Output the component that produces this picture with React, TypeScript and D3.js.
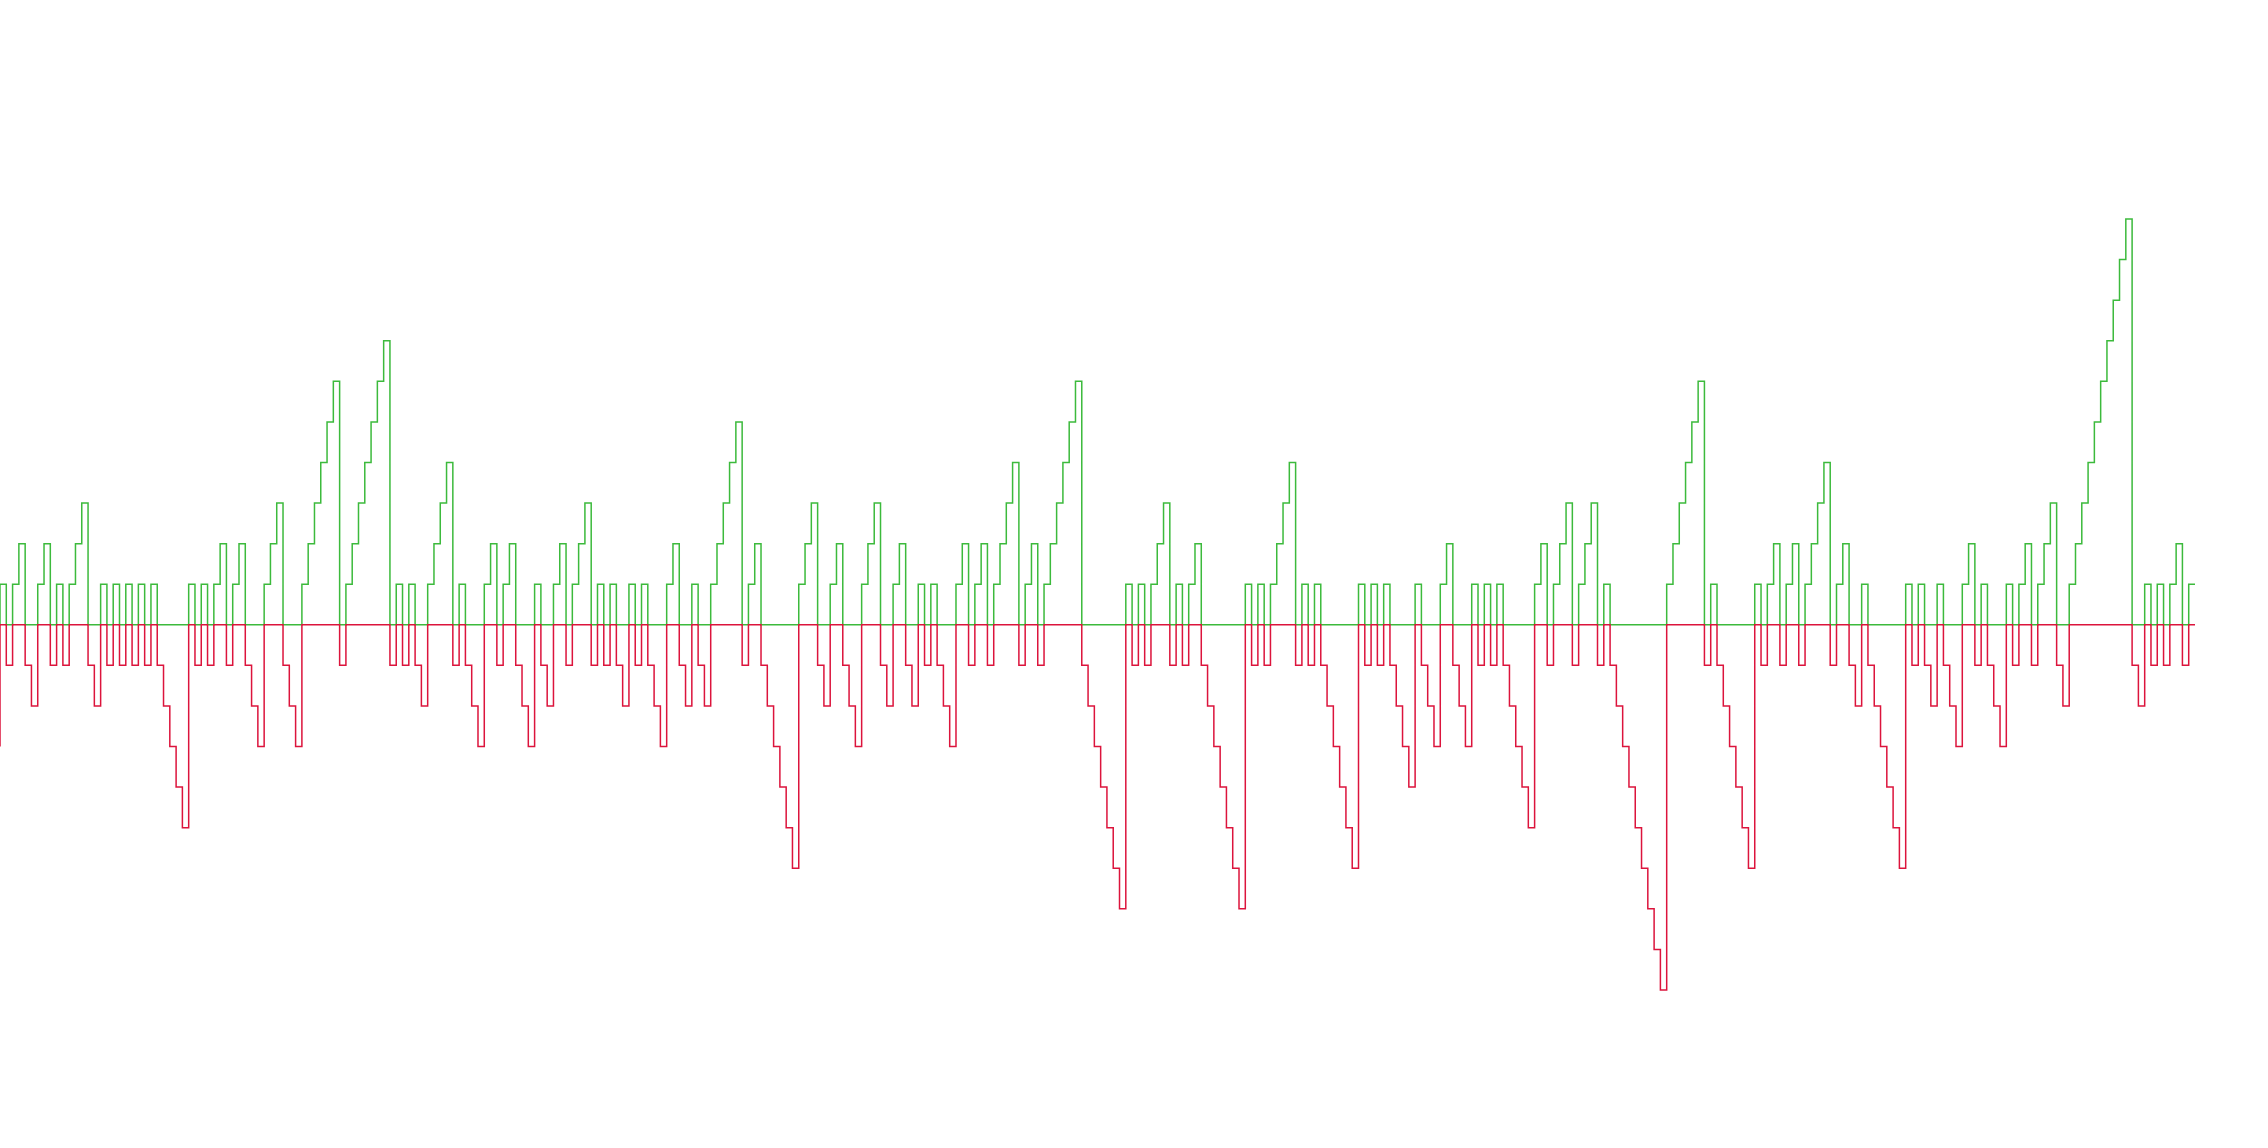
import React, { useEffect, useRef } from 'react';
import * as d3 from 'd3';

// streak value per game: +n = n-th win in a row, -n = n-th loss in a row
const streak: number[] = [
  -3,
  1, -1, 1, 2, -1, -2, 1, 2, -1, 1, -1, 1, 2, 3, -1, -2,
  1, -1, 1, -1, 1, -1, 1, -1, 1,
  -1, -2, -3, -4, -5,
  1, -1, 1, -1, 1, 2, -1, 1, 2,
  -1, -2, -3, 1, 2, 3, -1, -2, -3,
  1, 2, 3, 4, 5, 6, -1, 1, 2, 3, 4, 5, 6, 7, -1,
  1, -1, 1, -1, -2, 1, 2, 3, 4, -1, 1, -1, -2, -3,
  1, 2, -1, 1, 2, -1, -2, -3, 1, -1, -2, 1, 2, -1,
  1, 2, 3, -1, 1, -1, 1, -1, -2, 1, -1, 1,
  -1, -2, -3, 1, 2, -1, -2, 1, -1, -2, 1, 2, 3, 4, 5,
  -1, 1, 2, -1, -2, -3, -4, -5, -6, 1, 2, 3, -1, -2, 1, 2,
  -1, -2, -3, 1, 2, 3, -1, -2, 1, 2, -1, -2, 1, -1, 1,
  -1, -2, -3, 1, 2, -1, 1, 2, -1, 1, 2, 3, 4, -1, 1, 2, -1,
  1, 2, 3, 4, 5, 6, -1, -2, -3, -4, -5, -6, -7,
  1, -1, 1, -1, 1, 2, 3, -1, 1, -1, 1, 2,
  -1, -2, -3, -4, -5, -6, -7,
  1, -1, 1, -1, 1, 2, 3, 4, -1, 1, -1, 1,
  -1, -2, -3, -4, -5, -6,
  1, -1, 1, -1, 1, -1, -2, -3, -4, 1, -1, -2, -3, 1, 2,
  -1, -2, -3, 1, -1, 1, -1, 1, -1, -2, -3, -4, -5,
  1, 2, -1, 1, 2, 3, -1, 1, 2, 3, -1, 1,
  -1, -2, -3, -4, -5, -6, -7, -8, -9,
  1, 2, 3, 4, 5, 6, -1, 1, -1, -2, -3, -4, -5, -6,
  1, -1, 1, 2, -1, 1, 2, -1, 1, 2, 3, 4, -1, 1, 2, -1, -2, 1,
  -1, -2, -3, -4, -5, -6, 1, -1, 1, -1, -2, 1, -1, -2, -3, 1, 2, -1, 1,
  -1, -2, -3, 1, -1, 1, 2, -1, 1, 2, 3, -1, -2,
  1, 2, 3, 4, 5, 6, 7, 8, 9, 10,
  -1, -2, 1, -1, 1, -1, 1, 2, -1, 1,
];

const yExtent: [number, number] = [-9, 10];

const WIDTH = 2268;
const HEIGHT = 1148;
const margin = { top: 219, right: 73, bottom: 158, left: 0 };

const WIN = '#3cba3c';
const LOSS = 'crimson';

const App: React.FC = () => {
  const svgRef = useRef<SVGSVGElement>(null);

  useEffect(() => {
    document.body.style.margin = '0';
    if (!svgRef.current) return;

    const svg = d3.select(svgRef.current);
    svg.selectAll('*').remove();

    const x = d3.scaleLinear()
      .domain([0, streak.length - 1])
      .range([margin.left, WIDTH - margin.right]);

    const y = d3.scaleLinear()
      .domain(yExtent)
      .range([HEIGHT - margin.bottom, margin.top]);

    // wins: line clamped at zero from below
    const winLine = d3.line<number>()
      .x((_, i) => x(i))
      .y(d => y(Math.max(d, 0)))
      .curve(d3.curveStepBefore);

    // losses: line clamped at zero from above
    const lossLine = d3.line<number>()
      .x((_, i) => x(i))
      .y(d => y(Math.min(d, 0)))
      .curve(d3.curveStepBefore);

    svg.append('path')
      .datum(streak)
      .attr('fill', 'none')
      .attr('stroke', WIN)
      .attr('stroke-width', 1.5)
      .attr('d', winLine);

    svg.append('path')
      .datum(streak)
      .attr('fill', 'none')
      .attr('stroke', LOSS)
      .attr('stroke-width', 1.5)
      .attr('d', lossLine);
  }, []);

  return (
    <svg
      ref={svgRef}
      width={WIDTH}
      height={HEIGHT}
      style={{ display: 'block', position: 'absolute', left: 0, top: 0, background: '#fff' }}
    />
  );
};

export default App;
